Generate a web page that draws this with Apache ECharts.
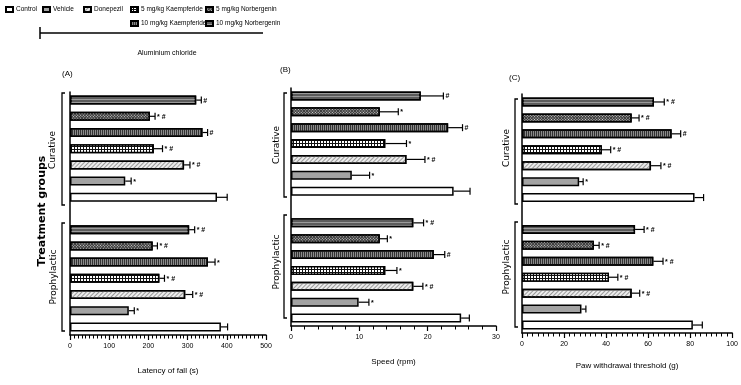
<!DOCTYPE html>
<html>
<head>
<meta charset="utf-8">
<title>Treatment groups</title>
<script src="https://cdn.jsdelivr.net/npm/echarts@6/dist/echarts.min.js"></script>
<style>
  html, body {margin: 0; padding: 0; background: #fff;}
  #chart {width: 741px; height: 385px;}
</style>
</head>
<body>
<div id="chart"></div>
<script>
// 组别（每组从上到下）
var treatments = ['10 mg/kg Norbergenin', '5 mg/kg Norbergenin', '10 mg/kg Kaempferide', '5 mg/kg Kaempferide', 'Donepezil', 'Vehicle', 'Control'];
var slots = ['c1', 'c2', 'c3', 'c4', 'c5', 'c6', 'c7', 'gap', 'p1', 'p2', 'p3', 'p4', 'p5', 'p6', 'p7'];

// (A) Latency of fall
var latencyCurative = [322, 204, 338, 214, 291, 141, 375];
var latencyCurativeErr = [13, 13, 13, 22, 15, 15, 26];
var latencyCurativeSig = ['#', '* #', '#', '* #', '* #', '*', ''];
var latencyProphylactic = [304, 211, 352, 228, 294, 150, 385];
var latencyProphylacticErr = [14, 12, 18, 13, 19, 14, 17];
var latencyProphylacticSig = ['* #', '* #', '*', '* #', '* #', '*', ''];

// (B) Speed
var speedCurative = [19, 13, 23, 13.8, 16.9, 8.9, 23.8];
var speedCurativeErr = [3.3, 2.7, 2.1, 3.1, 2.7, 2.6, 2.4];
var speedCurativeSig = ['#', '*', '#', '*', '* #', '*', ''];
var speedProphylactic = [17.9, 13, 20.9, 13.8, 17.9, 9.9, 24.9];
var speedProphylacticErr = [1.5, 1.1, 1.6, 1.7, 1.4, 1.5, 1.2];
var speedProphylacticSig = ['* #', '*', '#', '*', '* #', '*', ''];

// (C) Paw withdrawal threshold
var pawCurative = [62.8, 52.2, 71.2, 38, 61.4, 27.2, 82.1];
var pawCurativeErr = [4.9, 3.5, 4.3, 4.2, 4.7, 1.9, 4.3];
var pawCurativeSig = ['* #', '* #', '#', '* #', '* #', '*', ''];
var pawProphylactic = [53.8, 34.2, 62.5, 41.4, 52.2, 28.3, 81.3];
var pawProphylacticErr = [4.3, 2.5, 4.6, 4.2, 3.8, 2.1, 4.5];
var pawProphylacticSig = ['* #', '* #', '* #', '* #', '* #', '', ''];

var sans = "'Liberation Sans', Arial, sans-serif";

// 填充样式
var styles = {
    '10 mg/kg Norbergenin': {color: '#5c5c5c', decal: {symbol: 'rect', symbolSize: 1, color: '#9a9a9a', dashArrayX: [1, 0], dashArrayY: [1, 2]}},
    '5 mg/kg Norbergenin': {color: '#3a3a3a', decal: {symbol: 'rect', symbolSize: 1, color: '#d8d8d8', dashArrayX: [1, 1], dashArrayY: [1, 1], rotation: Math.PI / 4}},
    '10 mg/kg Kaempferide': {color: '#8a8a8a', decal: {symbol: 'rect', symbolSize: 1, color: '#333', dashArrayX: [1, 1], dashArrayY: [1, 0]}},
    '5 mg/kg Kaempferide': {color: '#111', decal: {symbol: 'rect', symbolSize: 1, color: '#fff', dashArrayX: [2, 1], dashArrayY: [2, 1]}},
    'Donepezil': {color: '#ececec', decal: {symbol: 'rect', symbolSize: 1, color: '#9a9a9a', dashArrayX: [1, 0], dashArrayY: [1, 2], rotation: -Math.PI / 4}},
    'Vehicle': {color: '#a3a3a3'},
    'Control': {color: '#fff'}
};

var panels = [
    {cur: latencyCurative, curErr: latencyCurativeErr, curSig: latencyCurativeSig,
     pro: latencyProphylactic, proErr: latencyProphylacticErr, proSig: latencyProphylacticSig,
     max: 500, interval: 100, minor: 10, name: 'Latency of fall (s)', nameGap: 32,
     grid: {left: 70, right: 475, top: 92, bottom: 50}},
    {cur: speedCurative, curErr: speedCurativeErr, curSig: speedCurativeSig,
     pro: speedProphylactic, proErr: speedProphylacticErr, proSig: speedProphylacticSig,
     max: 30, interval: 10, minor: 5, name: 'Speed (rpm)', nameGap: 32,
     grid: {left: 291, right: 245, top: 88, bottom: 59}},
    {cur: pawCurative, curErr: pawCurativeErr, curSig: pawCurativeSig,
     pro: pawProphylactic, proErr: pawProphylacticErr, proSig: pawProphylacticSig,
     max: 100, interval: 20, minor: 8, name: 'Paw withdrawal threshold (g)', nameGap: 29,
     grid: {left: 522, right: 8, top: 94, bottom: 52}}
];

function makeErrRender(sigs) {
    return function (params, api) {
        var v = api.value(0), cat = api.value(1), e = api.value(2);
        var p0 = api.coord([v, cat]);
        var p1 = api.coord([v + e, cat]);
        var line = {stroke: '#000', lineWidth: 1.2};
        return {
            type: 'group',
            children: [
                {type: 'line', shape: {x1: p0[0], y1: p0[1], x2: p1[0], y2: p1[1]}, style: line},
                {type: 'line', shape: {x1: p1[0], y1: p1[1] - 3.5, x2: p1[0], y2: p1[1] + 3.5}, style: line},
                {type: 'text', x: p1[0] + 2, y: p1[1] + 0.5, style: {
                    text: sigs[params.dataIndex], fill: '#000', verticalAlign: 'middle',
                    font: 'bold 7px ' + sans}}
            ]
        };
    };
}

var grids = [], xAxes = [], yAxes = [], series = [];
panels.forEach(function (p, gi) {
    grids.push(p.grid);
    xAxes.push({
        gridIndex: gi, type: 'value', min: 0, max: p.max, interval: p.interval,
        name: p.name, nameLocation: 'middle', nameGap: p.nameGap,
        nameTextStyle: {fontSize: 8, color: '#000', fontFamily: sans},
        axisLine: {show: true, lineStyle: {color: '#000', width: 1.5}},
        axisTick: {show: true, length: 5, lineStyle: {color: '#000', width: 1.2}},
        minorTick: {show: true, splitNumber: p.minor, length: 3.5, lineStyle: {color: '#000', width: 1}},
        splitLine: {show: false},
        axisLabel: {fontSize: 7, color: '#000', fontFamily: sans, margin: 8}
    });
    yAxes.push({
        gridIndex: gi, type: 'category', inverse: true, data: slots,
        axisLine: {show: true, lineStyle: {color: '#000', width: 1.5}},
        axisTick: {show: false}, axisLabel: {show: false}
    });
    treatments.forEach(function (t, i) {
        var d = slots.map(function () { return '-'; });
        d[i] = p.cur[i];
        d[8 + i] = p.pro[i];
        series.push({
            name: t, type: 'bar', xAxisIndex: gi, yAxisIndex: gi,
            barWidth: 9, barGap: '-100%',
            itemStyle: Object.assign({borderColor: '#000', borderWidth: 1.5}, styles[t]),
            emphasis: {disabled: true},
            data: d
        });
    });
    var errData = [], sigs = [];
    treatments.forEach(function (t, i) {
        errData.push([p.cur[i], i, p.curErr[i]]);
        sigs.push(p.curSig[i]);
    });
    treatments.forEach(function (t, i) {
        errData.push([p.pro[i], 8 + i, p.proErr[i]]);
        sigs.push(p.proSig[i]);
    });
    series.push({
        type: 'custom', xAxisIndex: gi, yAxisIndex: gi, z: 5, clip: false,
        renderItem: makeErrRender(sigs),
        encode: {x: 0, y: 1},
        data: errData
    });
});

// 图例位置
var legendPos = {
    'Control': [5, 6], 'Vehicle': [42, 6], 'Donepezil': [83, 6],
    '5 mg/kg Kaempferide': [130, 6], '5 mg/kg Norbergenin': [205, 6],
    '10 mg/kg Kaempferide': [130, 20], '10 mg/kg Norbergenin': [205, 20]
};
var legends = ['Control', 'Vehicle', 'Donepezil', '5 mg/kg Kaempferide', '5 mg/kg Norbergenin', '10 mg/kg Kaempferide', '10 mg/kg Norbergenin'].map(function (n) {
    return {
        data: [n], left: legendPos[n][0], top: legendPos[n][1], padding: 0,
        icon: 'rect', itemWidth: 7, itemHeight: 5, selectedMode: false,
        textStyle: {fontSize: 6.5, color: '#000', fontFamily: sans, padding: [0, 0, 0, -2]}
    };
});

function bracket(x, y1, y2) {
    return {type: 'polyline', shape: {points: [[x + 3, y1], [x, y1], [x, y2], [x + 3, y2]]},
        style: {stroke: '#000', lineWidth: 1.3, fill: null}};
}
function vtext(txt, x, y, font) {
    return {type: 'text', x: x, y: y, rotation: Math.PI / 2,
        style: {text: txt, font: font, fill: '#000', align: 'center', verticalAlign: 'middle'}};
}
function htext(txt, x, y, font, align) {
    return {type: 'text', x: x, y: y,
        style: {text: txt, font: font, fill: '#000', align: align || 'left', verticalAlign: 'middle'}};
}

var smallFont = "9px 'DejaVu Sans', sans-serif";
var graphics = [
    // Aluminium chloride
    {type: 'line', shape: {x1: 40, y1: 33, x2: 263, y2: 33}, style: {stroke: '#000', lineWidth: 1.5}},
    {type: 'line', shape: {x1: 40, y1: 27, x2: 40, y2: 39}, style: {stroke: '#000', lineWidth: 1.5}},
    htext('Aluminium chloride', 167, 53, "7px " + sans, 'center'),
    // 面板标题
    htext('(A)', 62, 74, "8px " + sans),
    htext('(B)', 280, 70, "8px " + sans),
    htext('(C)', 509, 78, "8px " + sans),
    vtext('Treatment groups', 42, 211, "bold 11px 'DejaVu Sans', sans-serif"),
    bracket(62, 93, 205), vtext('Curative', 53, 150, smallFont),
    bracket(62, 223, 331), vtext('Prophylactic', 54, 277, smallFont),
    bracket(284, 93, 197), vtext('Curative', 277, 145, smallFont),
    bracket(284, 215, 318), vtext('Prophylactic', 277, 262, smallFont),
    bracket(515, 99, 204), vtext('Curative', 507, 148, smallFont),
    bracket(515, 222, 327), vtext('Prophylactic', 507, 267, smallFont)
];

var myChart = echarts.init(document.getElementById('chart'));
myChart.setOption({
    backgroundColor: '#fff',
    animation: false,
    legend: legends,
    grid: grids,
    xAxis: xAxes,
    yAxis: yAxes,
    series: series,
    graphic: graphics
});
</script>
</body>
</html>
